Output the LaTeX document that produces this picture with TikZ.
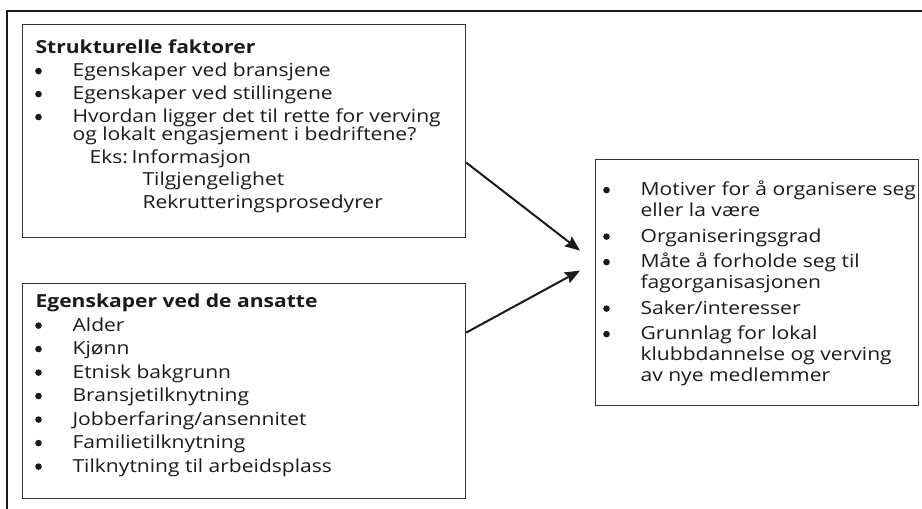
\documentclass[tikz,border=0pt]{standalone}
\usepackage{fontspec}
\setmainfont{Open Sans}[FakeStretch=1.17]
\usetikzlibrary{arrows.meta}
\definecolor{boxline}{HTML}{333333}
\definecolor{ink}{HTML}{1A1A1A}
\tikzset{
  listbox/.style={draw=boxline, line width=1.2pt, inner sep=0pt, anchor=north west,
    text=ink, font=\fontsize{18}{18}\selectfont},
  pil/.style={ink, line width=2pt, -{Stealth[length=15pt,width=12pt,inset=2pt]}}
}
\newcommand{\bul}{\llap{\tikz[baseline=-5.5pt]\fill (0pt,0pt) circle[radius=3.3pt];\hspace{30.8pt}}}
\newcommand{\overskrift}[1]{\hspace*{-37pt}\textbf{#1}}

\begin{document}
\begin{tikzpicture}[x=1pt,y=-1pt]
\useasboundingbox (0,0) rectangle (922,509);
% ramme rundt figuren
\draw[ink, line width=2.5pt] (7,509) -- (7,11) -- (922,11);

\node[listbox] (struk) at (22,24) {\parbox[t][213pt][t]{443pt}{\lineskiplimit=-100pt
  \leftskip=50pt \rightskip=-40pt plus 1fil
  \rule{0pt}{29pt}\overskrift{Strukturelle faktorer}\\[5pt]
  \bul Egenskaper ved bransjene\\[5pt]
  \bul Egenskaper ved stillingene\\[5pt]
  \bul Hvordan ligger det til rette for verving\\
  og lokalt engasjement i bedriftene?\\[5pt]
  \hspace*{17pt}\makebox[42pt][l]{Eks:}Informasjon\\[4pt]
  \hspace*{70pt}Tilgjengelighet\\[5pt]
  \hspace*{70pt}Rekrutteringsprosedyrer}};

\node[listbox] (ansatte) at (22,283) {\parbox[t][215pt][t]{443pt}{\lineskiplimit=-100pt
  \leftskip=50pt \rightskip=-40pt plus 1fil
  \rule{0pt}{24pt}\overskrift{Egenskaper ved de ansatte}\\[5.5pt]
  \bul Alder\\[5.5pt]
  \bul Kjønn\\[5.5pt]
  \bul Etnisk bakgrunn\\[5.5pt]
  \bul Bransjetilknytning\\[5.5pt]
  \bul Jobberfaring/ansennitet\\[5.5pt]
  \bul Familietilknytning\\[5.5pt]
  \bul Tilknytning til arbeidsplass}};

\node[listbox, font=\fontsize{18}{21}\selectfont] (utfall) at (595,159) {\parbox[t][246pt][t]{323pt}{\lineskiplimit=-100pt
  \leftskip=45pt \rightskip=-40pt plus 1fil
  \rule{0pt}{36pt}\bul Motiver for å organisere seg\\
  eller la være\\[4.5pt]
  \bul Organiseringsgrad\\[4.5pt]
  \bul Måte å forholde seg til\\
  fagorganisasjonen\\[4.5pt]
  \bul Saker/interesser\\[4.5pt]
  \bul Grunnlag for lokal\\
  klubbdannelse og verving\\
  av nye medlemmer}};

\draw[pil] ([yshift=-31.5pt]struk.east) -- ([xshift=-15pt,yshift=32pt]utfall.west);
\draw[pil] ([yshift=58.5pt]ansatte.east) -- ([xshift=-15pt,yshift=12pt]utfall.west);
\end{tikzpicture}
\end{document}
